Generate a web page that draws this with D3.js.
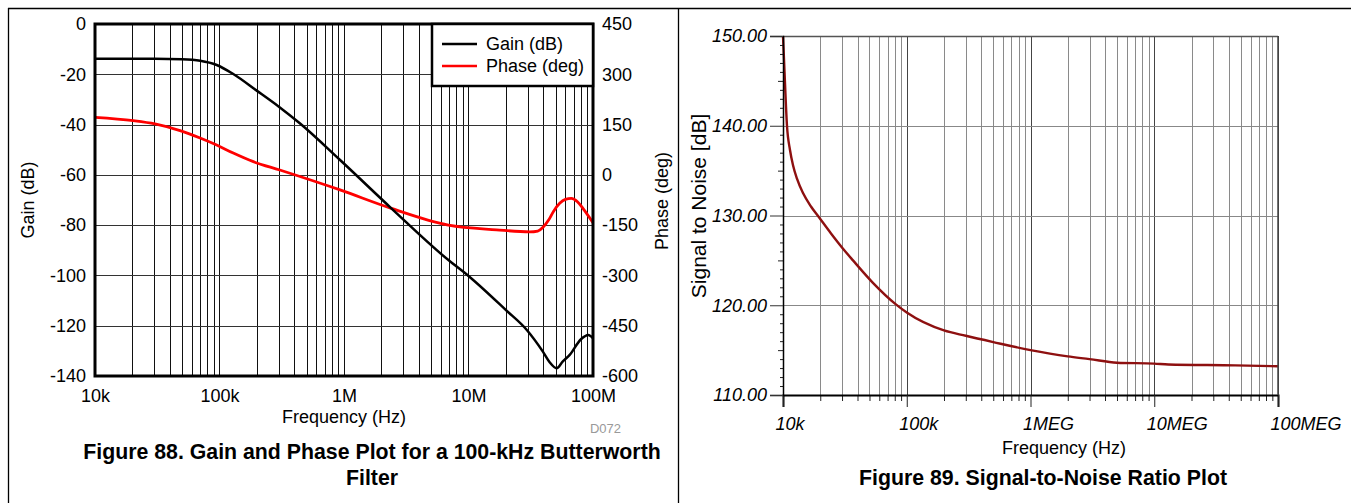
<!DOCTYPE html>
<html><head><meta charset="utf-8">
<script src="https://cdn.jsdelivr.net/npm/d3@7"></script>
<style>
body{margin:0;background:#fff;}
svg{display:block;font-family:"Liberation Sans",Arial,sans-serif;}
</style></head><body>
<svg id="c" width="1351" height="503"></svg>
<script>
// ---------- data ----------
const leftXTickValues = [1e4, 1e5, 1e6, 1e7, 1e8];
const leftXTickLabels = ["10k", "100k", "1M", "10M", "100M"];
const gainTicks = [0, -20, -40, -60, -80, -100, -120, -140];
const phaseTicks = [450, 300, 150, 0, -150, -300, -450, -600];

const gainFreq = [1e4, 3e4, 5e4, 7e4, 9.5e4, 1.29e5, 1.99e5, 3e5, 4.44e5, 9.3e5, 2.4e6, 6.9e6, 1e7, 2e7, 2.94e7, 3.97e7, 4.5e7, 5.1e7, 5.7e7, 6.5e7, 8e7, 9.16e7, 1e8];
const gainDb   = [-13.8, -13.8, -14.0, -14.6, -16.3, -19.9, -26.5, -32.9, -39.6, -54.1, -73.3, -93.9, -100.2, -113.8, -121.7, -130.4, -134.6, -136.9, -134.3, -131.6, -125.4, -123.7, -125];

const phaseFreq = [1e4, 2.03e4, 3.03e4, 4.82e4, 6.99e4, 9.49e4, 1.29e5, 1.87e5, 3.05e5, 9.3e5, 2.4e6, 6.9e6, 1.68e7, 3.1e7, 3.6e7, 4e7, 4.4e7, 4.8e7, 5.4e7, 6e7, 6.7e7, 7.5e7, 8.3e7, 1e8];
const phaseDeg  = [171.7, 161.6, 151.8, 131.9, 110, 89, 65, 39.3, 14.5, -45, -100, -150, -164, -170, -167.5, -155, -135, -110, -85, -73, -70, -80, -100, -143];

const rightXTickValues = [1e4, 1e5, 1e6, 1e7, 1e8];
const rightXTickLabels = ["10k", "100k", "1MEG", "10MEG", "100MEG"];
const snrTicks = [110, 120, 130, 140, 150];

const snrFreq = [1e4, 1.0245e4, 1.077e4, 1.139e4, 1.205e4, 1.297e4, 1.451e4, 1.683e4, 1.953e4, 2.443e4, 3.055e4, 3.678e4, 5.33e4, 8.17e4, 1e5, 2e5, 3e5, 5e5, 1e6, 2e6, 3e6, 5e6, 1e7, 1.3e7, 4.5e7, 1e8];
const snrDb   = [150, 146.6, 140, 137.3, 135.6, 134.1, 132.5, 131.0, 129.8, 128.0, 126.3, 125.0, 122.5, 120.1, 119.2, 117.2, 116.6, 115.9, 115.0, 114.3, 114.0, 113.6, 113.5, 113.4, 113.3, 113.2];

const legendLabels = ["Gain (dB)", "Phase (deg)"];
const legendColors = ["#000", "#ff0000"];

// ---------- helpers ----------
function logGridValues(lo, hi) {
  const out = [];
  for (let d = lo; d < hi; d *= 10) for (let k = 1; k <= 9; k++) out.push(d * k);
  out.push(hi);
  return out;
}

const svg = d3.select("#c");

// ---------- outer frame ----------
svg.append("line").attr("x1", 8).attr("x2", 1351).attr("y1", 8.5).attr("y2", 8.5).attr("stroke", "#000").attr("stroke-width", 1.3);
svg.append("line").attr("x1", 8.5).attr("x2", 8.5).attr("y1", 8).attr("y2", 503).attr("stroke", "#000").attr("stroke-width", 1.3);
svg.append("line").attr("x1", 678.5).attr("x2", 678.5).attr("y1", 8).attr("y2", 503).attr("stroke", "#000").attr("stroke-width", 1.3);

// ---------- LEFT CHART ----------
const xL = d3.scaleLog().domain([1e4, 1e8]).range([95, 593]);
const yG = d3.scaleLinear().domain([-140, 0]).range([376, 24]);
const yP = d3.scaleLinear().domain([-600, 450]).range([376, 24]);

const gL = svg.append("g");
// vertical grid
gL.selectAll("line.vg").data(logGridValues(1e4, 1e8)).join("line")
  .attr("x1", d => Math.round(xL(d)) + 0.5).attr("x2", d => Math.round(xL(d)) + 0.5)
  .attr("y1", yG(0)).attr("y2", yG(-140)).attr("stroke", "#111").attr("stroke-width", 1);
// horizontal grid
gL.selectAll("line.hg").data(gainTicks).join("line")
  .attr("x1", xL(1e4)).attr("x2", xL(1e8))
  .attr("y1", d => Math.round(yG(d)) + 0.5).attr("y2", d => Math.round(yG(d)) + 0.5)
  .attr("stroke", "#333").attr("stroke-width", 1);

// curves
const gainLine = d3.line().x((d, i) => xL(gainFreq[i])).y(d => yG(d)).curve(d3.curveMonotoneX);
const phaseLine = d3.line().x((d, i) => xL(phaseFreq[i])).y(d => yP(d)).curve(d3.curveMonotoneX);
gL.append("path").attr("d", phaseLine(phaseDeg)).attr("fill", "none").attr("stroke", "#ff0000").attr("stroke-width", 2.8);
gL.append("path").attr("d", gainLine(gainDb)).attr("fill", "none").attr("stroke", "#000").attr("stroke-width", 2.5);

// plot border
gL.append("rect").attr("x", xL(1e4)).attr("y", yG(0)).attr("width", xL(1e8) - xL(1e4)).attr("height", yG(-140) - yG(0))
  .attr("fill", "none").attr("stroke", "#000").attr("stroke-width", 3);

// legend
const lg = gL.append("g");
lg.append("rect").attr("x", 432).attr("y", 24).attr("width", 161).attr("height", 62).attr("fill", "#fff").attr("stroke", "#000").attr("stroke-width", 2.5);
legendLabels.forEach((t, i) => {
  const y = 44 + i * 22;
  lg.append("line").attr("x1", 442).attr("x2", 477).attr("y1", y).attr("y2", y).attr("stroke", legendColors[i]).attr("stroke-width", 2.6);
  lg.append("text").attr("x", 486).attr("y", y).attr("dy", "0.35em").attr("font-size", 18).attr("fill", "#000").text(t);
});

// axes
const axGain = d3.axisLeft(yG).tickValues(gainTicks).tickSize(0).tickPadding(9).tickFormat(d => d);
gL.append("g").attr("transform", `translate(${xL(1e4)},0)`).call(axGain)
  .call(g => g.select(".domain").remove())
  .selectAll("text").attr("font-size", 18).attr("font-family", "Liberation Sans, Arial, sans-serif").attr("fill", "#000");
const axPhase = d3.axisRight(yP).tickValues(phaseTicks).tickSize(0).tickPadding(9).tickFormat(d => d);
gL.append("g").attr("transform", `translate(${xL(1e8)},0)`).call(axPhase)
  .call(g => g.select(".domain").remove())
  .selectAll("text").attr("font-size", 18).attr("font-family", "Liberation Sans, Arial, sans-serif").attr("fill", "#000");
const axXL = d3.axisBottom(xL).tickValues(leftXTickValues).tickSize(0).tickPadding(13).tickFormat((d, i) => leftXTickLabels[i]);
gL.append("g").attr("transform", `translate(0,${yG(-140)})`).call(axXL)
  .call(g => g.select(".domain").remove())
  .selectAll("text").attr("font-size", 18).attr("font-family", "Liberation Sans, Arial, sans-serif").attr("fill", "#000");

// titles
gL.append("text").attr("transform", "translate(34,200) rotate(-90)").attr("text-anchor", "middle").attr("font-size", 18).text("Gain (dB)");
gL.append("text").attr("transform", "translate(668,201) rotate(-90)").attr("text-anchor", "middle").attr("font-size", 18).text("Phase (deg)");
gL.append("text").attr("x", 344).attr("y", 423).attr("text-anchor", "middle").attr("font-size", 18).text("Frequency (Hz)");
gL.append("text").attr("x", 621).attr("y", 433).attr("text-anchor", "end").attr("font-size", 13).attr("fill", "#999").text("D072");
gL.append("text").attr("x", 372).attr("y", 459).attr("text-anchor", "middle").attr("font-size", 21.3).attr("font-weight", "bold").text("Figure 88. Gain and Phase Plot for a 100-kHz Butterworth");
gL.append("text").attr("x", 372).attr("y", 485).attr("text-anchor", "middle").attr("font-size", 21.3).attr("font-weight", "bold").text("Filter");

// ---------- RIGHT CHART ----------
const xR = d3.scaleLog().domain([1e4, 1e8]).range([783, 1278]);
const yS = d3.scaleLinear().domain([110, 150]).range([395, 36]);
const gR = svg.append("g");

// vertical grid
gR.selectAll("line.vg").data(logGridValues(1e4, 1e8).filter(d => d > 1e4)).join("line")
  .attr("x1", d => Math.round(xR(d)) + 0.5).attr("x2", d => Math.round(xR(d)) + 0.5)
  .attr("y1", yS(150)).attr("y2", yS(110))
  .attr("stroke", d => (Math.abs(Math.log10(d) - Math.round(Math.log10(d))) < 1e-9 ? "#444" : "#8a8a8a"))
  .attr("stroke-width", 1);
// horizontal grid
gR.selectAll("line.hg").data(snrTicks.filter(d => d > 110)).join("line")
  .attr("x1", xR(1e4)).attr("x2", xR(1e8))
  .attr("y1", d => Math.round(yS(d)) + 0.5).attr("y2", d => Math.round(yS(d)) + 0.5)
  .attr("stroke", d => d === 150 ? "#555" : "#888").attr("stroke-width", d => d === 150 ? 1.5 : 1);

// curve
const snrLine = d3.line().x((d, i) => xR(snrFreq[i])).y(d => yS(d)).curve(d3.curveMonotoneX);
gR.append("path").attr("d", snrLine(snrDb)).attr("fill", "none").attr("stroke", "#8e1010").attr("stroke-width", 2.4);

// minor axes ticks
const minorX = logGridValues(1e4, 1e8).filter(d => !rightXTickValues.includes(d));
gR.append("g").attr("transform", `translate(0,${yS(110)})`)
  .call(d3.axisBottom(xR).tickValues(minorX).tickSize(6).tickFormat(""))
  .call(g => g.select(".domain").remove())
  .selectAll("line").attr("stroke", "#222");
const minorY = d3.range(111, 150).filter(d => d % 10 !== 0);
gR.append("g").attr("transform", `translate(${xR(1e4)},0)`)
  .call(d3.axisLeft(yS).tickValues(minorY).tickSize(3).tickFormat(""))
  .call(g => g.select(".domain").remove())
  .selectAll("line").attr("stroke", "#222").attr("x2", d => d % 5 === 0 ? -5 : -3);

// major axes
const axXR = d3.axisBottom(xR).tickValues(rightXTickValues).tickSize(12).tickFormat((d, i) => rightXTickLabels[i]);
gR.append("g").attr("transform", `translate(0,${yS(110)})`).call(axXR)
  .call(g => g.select(".domain").attr("stroke", "#000").attr("stroke-width", 2))
  .call(g => g.selectAll("line").attr("stroke", "#222"))
  .selectAll("text").attr("font-size", 18).attr("font-style", "italic").attr("font-family", "Liberation Sans, Arial, sans-serif")
  .attr("fill", "#000").attr("text-anchor", "start").attr("x", -8).attr("y", 35).attr("dy", 0);
const axYS = d3.axisLeft(yS).tickValues(snrTicks).tickSize(13).tickPadding(3).tickFormat(d => d.toFixed(2));
gR.append("g").attr("transform", `translate(${xR(1e4)},0)`).call(axYS)
  .call(g => g.select(".domain").attr("stroke", "#000").attr("stroke-width", 1.5))
  .call(g => g.selectAll("line").attr("stroke", "#333"))
  .selectAll("text").attr("font-size", 18).attr("font-style", "italic").attr("font-family", "Liberation Sans, Arial, sans-serif").attr("fill", "#000");

// right border
gR.append("line").attr("x1", xR(1e8)).attr("x2", xR(1e8)).attr("y1", yS(150)).attr("y2", yS(110)).attr("stroke", "#444").attr("stroke-width", 1.5);

// titles
gR.append("text").attr("transform", "translate(706,206) rotate(-90)").attr("text-anchor", "middle").attr("font-size", 21).text("Signal to Noise [dB]");
gR.append("text").attr("x", 1064).attr("y", 454).attr("text-anchor", "middle").attr("font-size", 18).text("Frequency (Hz)");
gR.append("text").attr("x", 1043).attr("y", 485).attr("text-anchor", "middle").attr("font-size", 21.3).attr("font-weight", "bold").text("Figure 89. Signal-to-Noise Ratio Plot");
</script>
</body></html>
